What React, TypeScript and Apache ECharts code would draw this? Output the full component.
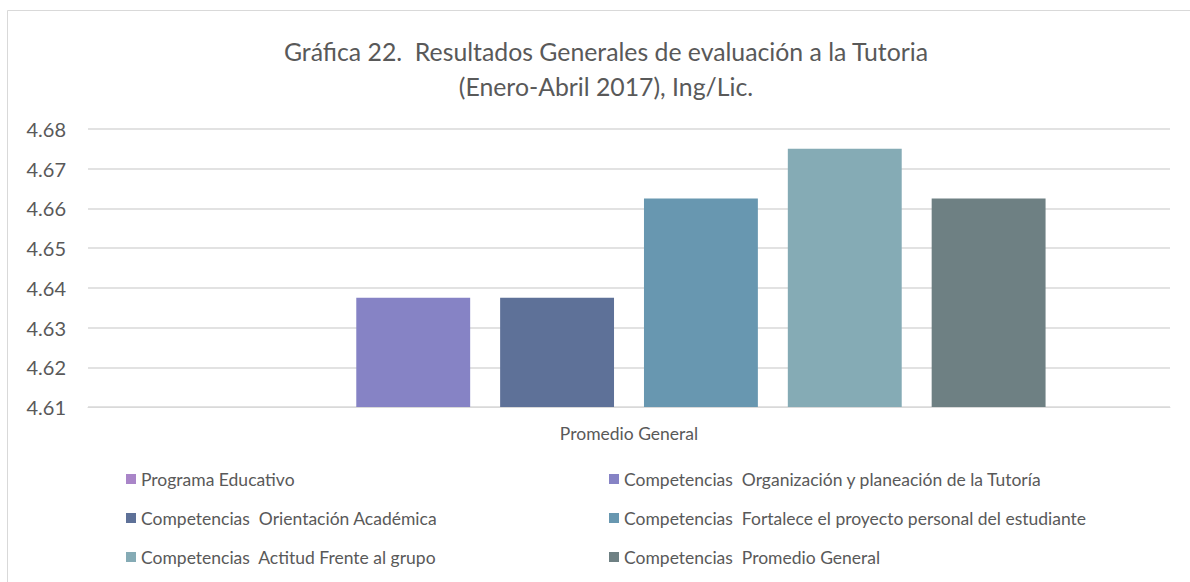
import React, { useEffect, useRef } from "react";
import * as echarts from "echarts";

const categories = ["Promedio General"];
const seriesNames = [
  "Programa Educativo",
  "Competencias  Organización y planeación de la Tutoría",
  "Competencias  Orientación Académica",
  "Competencias  Fortalece el proyecto personal del estudiante",
  "Competencias  Actitud Frente al grupo",
  "Competencias  Promedio General",
];
const programaEducativo = [4.61];
const organizacion = [4.6375];
const orientacion = [4.6375];
const fortalece = [4.6625];
const actitud = [4.675];
const promedio = [4.6625];
const seriesValues = [programaEducativo, organizacion, orientacion, fortalece, actitud, promedio];
const colors = ["#a985c8", "#8683c5", "#5e7198", "#6897b0", "#85abb5", "#6e8083"];
const yTicks = { min: 4.61, max: 4.68, interval: 0.01 };

const FONT = "Lato, 'Open Sans', sans-serif";

export default function App() {
  const ref = useRef<HTMLDivElement>(null);
  useEffect(() => {
    document.body.style.margin = "0";
    const chart = echarts.init(ref.current!, null, { renderer: "svg" });
    chart.setOption({
      animation: false,
      backgroundColor: "#ffffff",
      textStyle: { fontFamily: FONT },
      title: {
        text: "Gráfica 22.  Resultados Generales de evaluación a la Tutoria\n(Enero-Abril 2017), Ing/Lic.",
        left: 601,
        top: 29,
        textAlign: "center",
        textStyle: { fontFamily: FONT, fontSize: 24.8, fontWeight: "normal", color: "#595959", lineHeight: 35 },
      },
      graphic: [
        {
          type: "rect",
          shape: { x: 7.5, y: 10.5, width: 1200, height: 600 },
          style: { fill: "none", stroke: "#d9d9d9", lineWidth: 1 },
          silent: true,
        },
      ],
      grid: { left: 88, right: 20, top: 129, bottom: 175, containLabel: false },
      xAxis: {
        type: "category",
        data: categories,
        axisLine: { show: true, lineStyle: { color: "#d9d9d9", width: 1 } },
        axisTick: { show: false },
        axisLabel: { fontFamily: FONT, fontSize: 17.5, color: "#595959", margin: 17 },
      },
      yAxis: {
        type: "value",
        min: yTicks.min,
        max: yTicks.max,
        interval: yTicks.interval,
        axisLine: { show: false },
        axisTick: { show: false },
        splitLine: { lineStyle: { color: "#d9d9d9", width: 1.5 } },
        axisLabel: {
          fontFamily: FONT,
          fontSize: 20,
          color: "#595959",
          margin: 22,
          formatter: (v: number) => v.toFixed(2),
        },
      },
      legend: [
        {
          orient: "vertical",
          left: 121,
          top: 465,
          itemGap: 21,
          itemWidth: 10,
          itemHeight: 10,
          icon: "rect",
          data: [seriesNames[0], seriesNames[2], seriesNames[4]],
          textStyle: { fontFamily: FONT, fontSize: 17.5, color: "#595959" },
        },
        {
          orient: "vertical",
          left: 604,
          top: 465,
          itemGap: 21,
          itemWidth: 10,
          itemHeight: 10,
          icon: "rect",
          data: [seriesNames[1], seriesNames[3], seriesNames[5]],
          textStyle: { fontFamily: FONT, fontSize: 17.5, color: "#595959" },
        },
      ],
      series: seriesNames.map((name, i) => ({
        type: "bar",
        name,
        data: seriesValues[i],
        barGap: "26.3%",
        barCategoryGap: "23%",
        itemStyle: { color: colors[i] },
      })),
    });
    return () => chart.dispose();
  }, []);
  return <div ref={ref} style={{ width: 1190, height: 582 }} />;
}
